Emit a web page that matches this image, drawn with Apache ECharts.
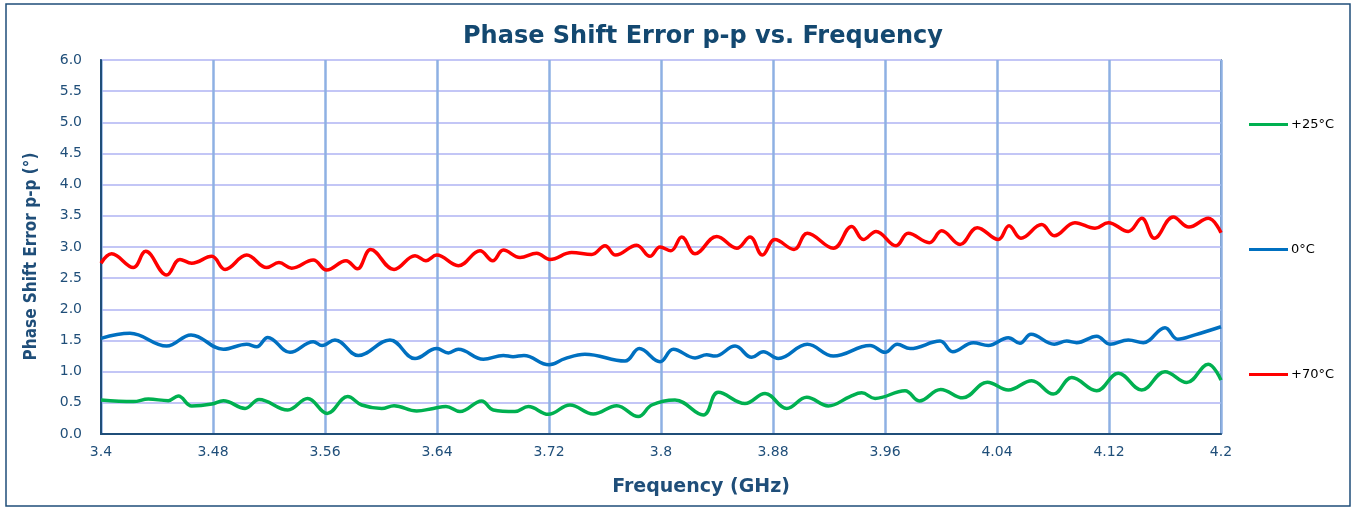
<!DOCTYPE html>
<html>
<head>
<meta charset="utf-8">
<title>Phase Shift Error p-p vs. Frequency</title>
<script src="https://cdn.jsdelivr.net/npm/echarts@6/dist/echarts.min.js"></script>
<style>
    html, body {margin: 0; padding: 0; background: #fff;}
    #char1 {width: 1353px; height: 508px;}
</style>
</head>
<body>
<div id="char1"></div>
<script>
// 读图得到的数据 (GHz, °)
var freq70 = [3.4000, 3.4076, 3.4231, 3.4319, 3.4469, 3.4564, 3.4648, 3.4791, 3.4886, 3.5041,
    3.5184, 3.5271, 3.5362, 3.5516, 3.5612, 3.5750, 3.5831, 3.5926, 3.6093, 3.6243,
    3.6321, 3.6398, 3.6552, 3.6707, 3.6798, 3.6874, 3.6993, 3.7112, 3.7207, 3.7362,
    3.7505, 3.7600, 3.7676, 3.7826, 3.7921, 3.7993, 3.8071, 3.8148, 3.8243, 3.8398,
    3.8541, 3.8636, 3.8724, 3.8814, 3.8950, 3.9045, 3.9231, 3.9362, 3.9445, 3.9536,
    3.9679, 3.9766, 3.9916, 4.0005, 4.0136, 4.0259, 4.0409, 4.0486, 4.0571, 4.0719,
    4.0809, 4.0957, 4.1100, 4.1195, 4.1338, 4.1434, 4.1524, 4.1659, 4.1771, 4.1909, 4.2000];
var val70 = [2.74, 2.89, 2.67, 2.93, 2.55, 2.80, 2.74, 2.85, 2.64, 2.87,
    2.67, 2.75, 2.66, 2.79, 2.63, 2.78, 2.65, 2.96, 2.64, 2.86,
    2.78, 2.87, 2.70, 2.94, 2.78, 2.95, 2.83, 2.90, 2.80, 2.91,
    2.88, 3.02, 2.87, 3.03, 2.85, 3.00, 2.94, 3.16, 2.89, 3.17,
    2.98, 3.16, 2.87, 3.12, 2.96, 3.22, 2.98, 3.33, 3.12, 3.25,
    3.02, 3.22, 3.07, 3.26, 3.04, 3.31, 3.12, 3.34, 3.14, 3.36,
    3.18, 3.39, 3.30, 3.39, 3.25, 3.46, 3.14, 3.48, 3.32, 3.46, 3.23];

var freq0 = [3.4000, 3.4207, 3.4469, 3.4643, 3.4874, 3.5041, 3.5112, 3.5191, 3.5350, 3.5516,
    3.5579, 3.5671, 3.5838, 3.6064, 3.6243, 3.6398, 3.6481, 3.6552, 3.6731, 3.6874,
    3.6943, 3.7021, 3.7200, 3.7314, 3.7457, 3.7743, 3.7845, 3.7993, 3.8088, 3.8243,
    3.8326, 3.8386, 3.8529, 3.8648, 3.8731, 3.8838, 3.9045, 3.9231, 3.9493, 3.9600,
    3.9688, 3.9779, 3.9993, 4.0084, 4.0231, 4.0338, 4.0481, 4.0564, 4.0643, 4.0809,
    4.0898, 4.0969, 4.1112, 4.1207, 4.1338, 4.1445, 4.1600, 4.1691, 4.1814, 4.2000];
var val0 = [1.535, 1.615, 1.41, 1.59, 1.36, 1.44, 1.40, 1.55, 1.31, 1.48,
    1.42, 1.51, 1.26, 1.51, 1.21, 1.37, 1.30, 1.36, 1.20, 1.26,
    1.24, 1.26, 1.11, 1.21, 1.28, 1.17, 1.37, 1.16, 1.36, 1.22,
    1.27, 1.25, 1.41, 1.23, 1.32, 1.21, 1.44, 1.25, 1.42, 1.31,
    1.44, 1.37, 1.49, 1.32, 1.465, 1.42, 1.545, 1.455, 1.60, 1.44,
    1.49, 1.465, 1.57, 1.44, 1.51, 1.465, 1.705, 1.52, 1.59, 1.72];

var freq25 = [3.4000, 3.4231, 3.4338, 3.4481, 3.4552, 3.4648, 3.4791, 3.4874, 3.5029, 3.5129,
    3.5334, 3.5476, 3.5616, 3.5762, 3.5862, 3.6005, 3.6093, 3.6255, 3.6374, 3.6464,
    3.6564, 3.6719, 3.6802, 3.6957, 3.7052, 3.7195, 3.7350, 3.7516, 3.7684, 3.7838,
    3.7934, 3.8100, 3.8302, 3.8409, 3.8600, 3.8743, 3.8898, 3.9041, 3.9195, 3.9350,
    3.9434, 3.9529, 3.9743, 3.9845, 3.9998, 4.0155, 4.0331, 4.0481, 4.0648, 4.0802,
    4.0934, 4.1112, 4.1266, 4.1434, 4.1600, 4.1755, 4.1909, 4.2000];
var val25 = [0.545, 0.52, 0.56, 0.535, 0.61, 0.45, 0.48, 0.535, 0.41, 0.555,
    0.385, 0.57, 0.33, 0.60, 0.465, 0.41, 0.455, 0.37, 0.41, 0.44,
    0.36, 0.53, 0.385, 0.36, 0.44, 0.315, 0.465, 0.32, 0.455, 0.28,
    0.465, 0.545, 0.305, 0.67, 0.49, 0.65, 0.41, 0.59, 0.45, 0.60,
    0.66, 0.57, 0.695, 0.53, 0.715, 0.58, 0.83, 0.705, 0.855, 0.64,
    0.905, 0.695, 0.975, 0.705, 1.00, 0.825, 1.12, 0.865];

var fStart = 3.4;   // x轴起点, 刻度从0开始计数
var xStep = 0.08;
var yStep = 0.5;

var seriesNames = ['+25°C', '0°C', '+70°C'];
var seriesColors = ['#00B050', '#0070C0', '#FF0000'];

var darkBlue = '#1F4E79';

// 频率换成相对起点的偏移
function pairs(f, v) {
    var out = [];
    for (var i = 0; i < f.length; i++) {
        out.push([f[i] - fStart, v[i]]);
    }
    return out;
}

function char1() {
    var myChart = echarts.init(document.getElementById('char1'));
    var lists = [[freq25, val25], [freq0, val0], [freq70, val70]];
    var series = [];
    for (var i = 0; i < lists.length; i++) {
        series.push({
            name: seriesNames[i],
            type: 'line',
            smooth: 0.4,
            showSymbol: false,
            symbol: 'none',
            lineStyle: {color: seriesColors[i], width: 3.5},
            itemStyle: {color: seriesColors[i]},
            data: pairs(lists[i][0], lists[i][1])
        });
    }

    var option = {
        animation: false,
        backgroundColor: '#fff',
        textStyle: {fontFamily: 'DejaVu Sans'},
        title: {
            text: 'Phase Shift Error p-p vs. Frequency',
            left: 698,
            top: 20,
            textAlign: 'center',
            textStyle: {color: '#134870', fontSize: 24, fontWeight: 'bold', fontFamily: 'DejaVu Sans'}
        },
        graphic: [{
            type: 'rect',
            shape: {x: 6, y: 4, width: 1344, height: 502},
            style: {fill: 'none', stroke: darkBlue, lineWidth: 1.5},
            silent: true
        }],
        legend: {
            orient: 'vertical',
            left: 1244,
            top: 113,
            icon: 'rect',
            itemWidth: 39,
            itemHeight: 3,
            itemGap: 112,
            textStyle: {color: '#000', fontSize: 13, fontFamily: 'DejaVu Sans', padding: [0, 0, 0, -2]},
            data: seriesNames
        },
        grid: {
            left: 101,
            right: 132,
            top: 60,
            bottom: 74,
            show: true,
            borderColor: darkBlue,
            borderWidth: 1.5
        },
        xAxis: {
            type: 'value',
            min: 0,
            max: 0.8,
            interval: xStep,
            name: 'Frequency (GHz)',
            nameLocation: 'middle',
            nameGap: 44,
            nameTextStyle: {color: darkBlue, fontSize: 19, fontWeight: 'bold', fontFamily: 'DejaVu Sans', padding: [0, 0, 0, 80]},
            axisLine: {show: true, lineStyle: {color: darkBlue, width: 2}},
            axisTick: {show: false},
            axisLabel: {
                color: darkBlue,
                fontSize: 14,
                margin: 11,
                formatter: function (v) {
                    return String(Math.round((fStart + v) * 100) / 100);
                }
            },
            splitLine: {show: true, lineStyle: {color: '#8EB0E3', width: 2.5}}
        },
        yAxis: {
            type: 'value',
            min: 0,
            max: 6,
            interval: yStep,
            name: 'Phase Shift Error p-p (°)',
            nameLocation: 'middle',
            nameGap: 61,
            nameRotate: 90,
            nameTextStyle: {color: darkBlue, fontSize: 17, fontWeight: 'bold', fontFamily: 'Liberation Sans Narrow, DejaVu Sans Condensed, DejaVu Sans', padding: [0, 19, 0, 0]},
            axisLine: {show: true, lineStyle: {color: darkBlue, width: 2}},
            axisTick: {show: false},
            axisLabel: {
                color: darkBlue,
                fontSize: 14,
                margin: 19,
                formatter: function (v) {
                    return v.toFixed(1);
                }
            },
            splitLine: {show: true, lineStyle: {color: '#C3C6F6', width: 2}}
        },
        series: series
    };

    myChart.setOption(option);
    window.addEventListener('resize', function () {myChart.resize();});
}

char1();
</script>
</body>
</html>
